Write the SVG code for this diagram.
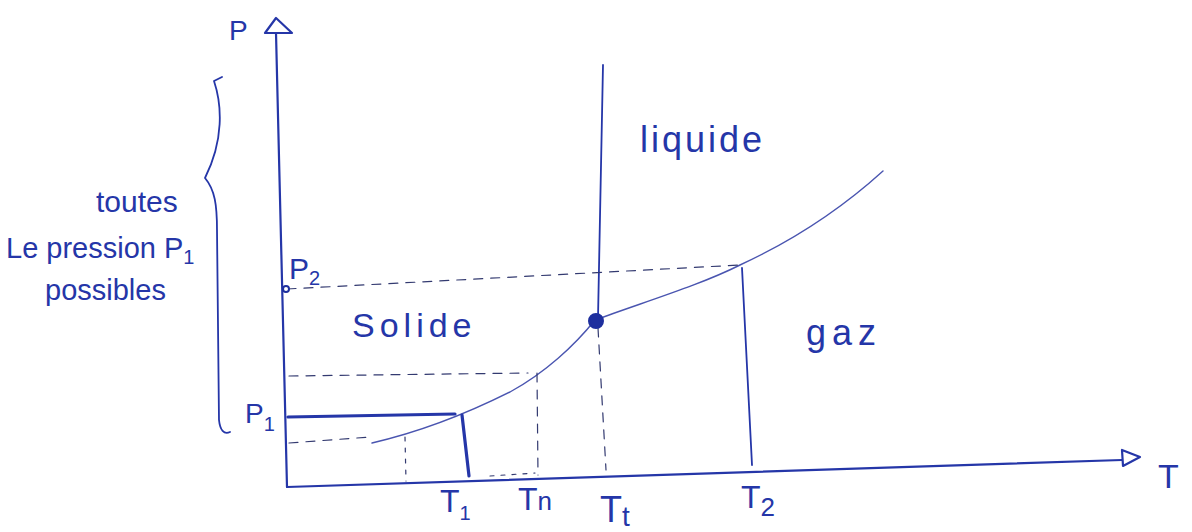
<svg xmlns="http://www.w3.org/2000/svg" width="1192" height="532" viewBox="0 0 1192 532">
<style>
.ink{fill:none;stroke:#2536a8;stroke-linecap:round;stroke-linejoin:round}
.axis{stroke-width:2.2}
.thin{stroke:#4a55b0;stroke-width:1.4}
.dash{stroke:#333a70;stroke-width:1.2;stroke-dasharray:9 8}
.dot{stroke:#333a70;stroke-width:1.2;stroke-dasharray:4 7}
.bold{stroke-width:3.2}
.lbl{font-family:"Liberation Sans",Arial,sans-serif;fill:#2536a8}
.sub{font-size:20px}
</style>
<rect width="1192" height="532" fill="#ffffff"/>
<g id="axes">
  <path class="ink axis" d="M287,487 L276,33"/>
  <path class="ink axis" d="M276,18 L265,33 L292,33 Z"/>
  <path class="ink axis" d="M287,487 L1122,460"/>
  <path class="ink axis" d="M1140,457 L1122,450 L1123,466 Z"/>
</g>
<g id="curves">
  <path class="ink thin" d="M372,443 C420,432 470,412 510,392 C545,373 575,345 595,320"/>
  <path class="ink thin" d="M595,320 C650,300 700,285 740,265 C790,242 840,210 883,171"/>
  <path class="ink" stroke-width="1.8" d="M603,65 L598,318"/>
  <path class="ink" stroke-width="1.8" d="M742,268 L752,465"/>
</g>
<g id="guides">
  <path class="ink dash" d="M287,289 L740,265"/>
  <path class="ink dash" d="M598,328 L606,470"/>
  <path class="ink dash" d="M289,376 L528,373"/>
  <path class="ink dash" d="M537,373 L538,475"/>
  <path class="ink dot" d="M490,476 L535,473"/>
  <path class="ink dash" d="M289,443 L370,437"/>
  <path class="ink dot" d="M405,437 L406,481"/>
  <path class="ink bold" d="M288,417 L455,414"/>
  <path class="ink bold" d="M462,415 L469,476"/>
</g>
<g id="points">
  <circle cx="596" cy="321" r="7" fill="#1e2f9e" stroke="#1e2f9e" stroke-width="2"/>
  <circle cx="286" cy="289" r="3" fill="#ffffff" stroke="#1e2f9e" stroke-width="2"/>
</g>
<g id="brace">
  <path class="ink" stroke-width="1.8" d="M222,77 L214,81 C222,105 224,140 205,178 C215,190 217,205 217,230 L219,420 C220,430 224,435 230,432"/>
</g>
<g id="labels">
  <text class="lbl" x="229" y="40" font-size="28">P</text>
  <text class="lbl" x="289" y="279" font-size="30">P<tspan class="sub" dy="6">2</tspan></text>
  <text class="lbl" x="245" y="423" font-size="28">P<tspan class="sub" dy="8">1</tspan></text>
  <text class="lbl" x="352" y="337" font-size="34" letter-spacing="5">Solide</text>
  <text class="lbl" x="640" y="152" font-size="36" letter-spacing="3">liquide</text>
  <text class="lbl" x="806" y="345" font-size="36" letter-spacing="6">gaz</text>
  <text class="lbl" x="440" y="512" font-size="32">T<tspan class="sub" dy="8">1</tspan></text>
  <text class="lbl" x="518" y="510" font-size="32">T<tspan font-size="26">n</tspan></text>
  <text class="lbl" x="600" y="522" font-size="36">T<tspan font-size="28" dy="4">t</tspan></text>
  <text class="lbl" x="741" y="508" font-size="32">T<tspan font-size="26" dy="8">2</tspan></text>
  <text class="lbl" x="1158" y="488" font-size="34">T</text>
</g>
<g id="note">
  <text class="lbl" x="96" y="212" font-size="30">toutes</text>
  <text class="lbl" x="6" y="258" font-size="29">Le pression P<tspan class="sub" dy="6">1</tspan></text>
  <text class="lbl" x="45" y="300" font-size="29">possibles</text>
</g>
</svg>
